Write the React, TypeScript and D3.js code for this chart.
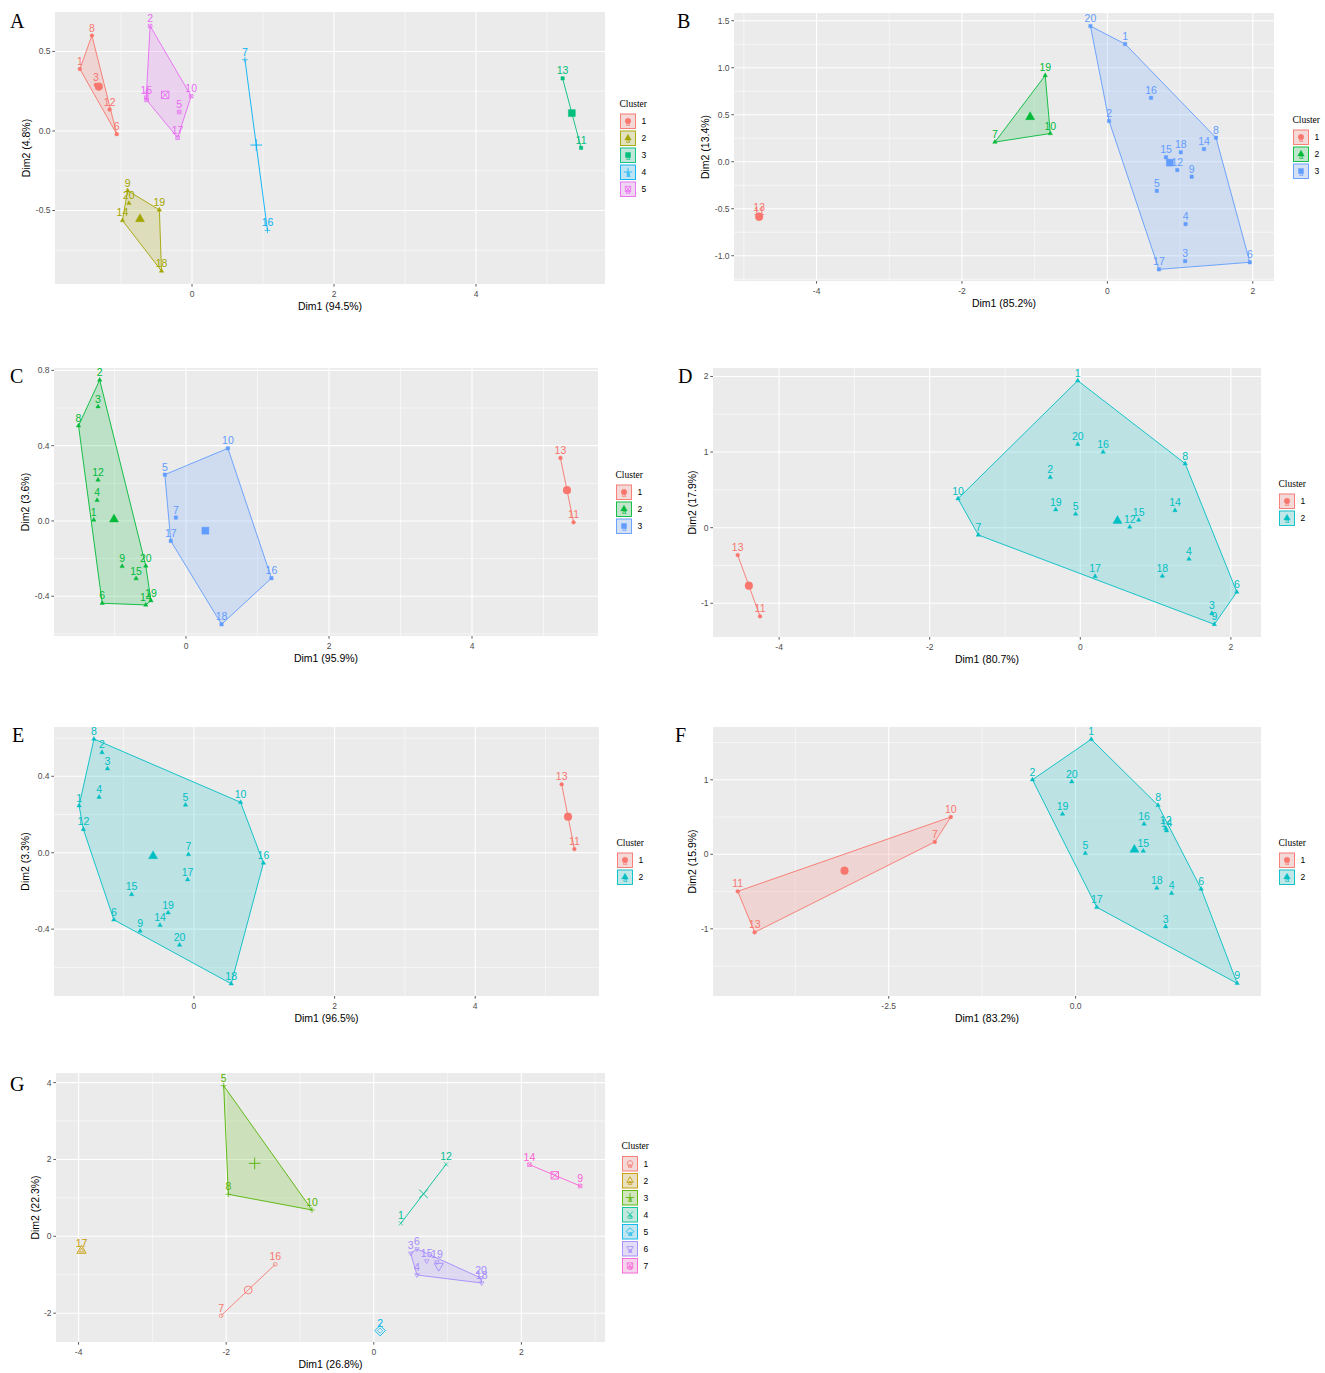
import React from 'react';
import * as d3 from 'd3';

const SANS = "'Liberation Sans', Arial, Helvetica, sans-serif";
const SERIF = "'Liberation Serif', 'Times New Roman', Times, serif";

// ggplot default hue palettes, by number of clusters
const hue2 = ['#F8766D', '#00BFC4'];
const hue3 = ['#F8766D', '#00BA38', '#619CFF'];
const hue5 = ['#F8766D', '#A3A500', '#00BF7D', '#00B0F6', '#E76BF3'];
const hue7 = ['#F8766D', '#C49A00', '#53B400', '#00C094', '#00B6EB', '#A58AFF', '#FB61D7'];

const shapes3 = ['circle', 'triangle', 'square'];
const shapes5 = ['circle', 'triangle', 'square', 'plus', 'squarex'];
const shapes7 = ['ocircle', 'otriangle', 'plus', 'cross', 'diamond', 'dtriangle', 'squarex'];

const ids20 = [1, 2, 3, 4, 5, 6, 7, 8, 9, 10, 11, 12, 13, 14, 15, 16, 17, 18, 19, 20];

// ---- A
const aDim1 = [-1.58, -0.59, -1.355, -0.64, -0.18, -1.06, 0.746, -1.41, -0.907, -0.012, 5.48, -1.16, 5.22, -0.98, -0.645, 1.063, -0.203, -0.43, -0.46, -0.89];
const aDim2 = [0.39, 0.66, 0.29, 0.195, 0.119, -0.02, 0.448, 0.6, -0.375, 0.219, -0.106, 0.135, 0.331, -0.5625, 0.21, -0.625, -0.042, -0.88, -0.496, -0.454];
const aCluster = [1, 5, 1, 5, 5, 1, 4, 1, 2, 5, 3, 1, 3, 2, 5, 4, 5, 2, 2, 2];

// ---- B
const bDim1 = [0.244, 0.023, 1.07, 1.076, 0.68, 1.96, -1.547, 1.494, 1.16, -0.785, -4.79, 0.962, -4.79, 1.329, 0.806, 0.6, 0.709, 1.01, -0.855, -0.233];
const bDim2 = [1.252, 0.433, -1.057, -0.663, -0.31, -1.07, 0.209, 0.255, -0.16, 0.3, -0.605, -0.089, -0.565, 0.135, 0.047, 0.68, -1.145, 0.1, 0.918, 1.443];
const bCluster = [3, 3, 3, 3, 3, 3, 2, 3, 3, 2, 1, 3, 1, 3, 3, 3, 3, 3, 2, 3];

// ---- C
const cDim1 = [-1.29, -1.207, -1.23, -1.243, -0.296, -1.172, -0.142, -1.503, -0.893, 0.586, 5.42, -1.23, 5.237, -0.562, -0.698, 1.195, -0.213, 0.497, -0.49, -0.562];
const cDim2 = [0.005, 0.749, 0.607, 0.11, 0.246, -0.437, 0.018, 0.506, -0.241, 0.386, -0.007, 0.218, 0.3345, -0.446, -0.306, -0.304, -0.106, -0.549, -0.423, -0.239];
const cCluster = [2, 2, 2, 2, 3, 2, 3, 2, 2, 3, 1, 2, 1, 2, 2, 3, 3, 3, 2, 2];

// ---- D
const dDim1 = [-0.034, -0.399, 1.747, 1.444, -0.062, 2.079, -1.354, 1.393, 1.78, -1.624, -4.253, 0.657, -4.55, 1.258, 0.775, 0.303, 0.197, 1.09, -0.326, -0.034];
const dDim2 = [1.945, 0.666, -1.134, -0.415, 0.181, -0.851, -0.097, 0.847, -1.279, 0.384, -1.173, 0.009, -0.362, 0.229, 0.101, 1.001, -0.644, -0.64, 0.238, 1.103];
const dCluster = [2, 2, 2, 2, 2, 2, 2, 2, 2, 2, 1, 2, 1, 2, 2, 2, 2, 2, 2, 2];

// ---- E
const eDim1 = [-1.633, -1.307, -1.229, -1.349, -0.12, -1.139, -0.078, -1.422, -0.765, 0.663, 5.41, -1.572, 5.229, -0.482, -0.886, 0.988, -0.09, 0.53, -0.367, -0.205];
const eDim2 = [0.246, 0.525, 0.44, 0.291, 0.25, -0.351, -0.009, 0.595, -0.41, 0.264, 0.019, 0.122, 0.358, -0.38, -0.218, -0.054, -0.141, -0.686, -0.314, -0.483];
const eCluster = [2, 2, 2, 2, 2, 2, 2, 2, 2, 2, 1, 2, 1, 2, 2, 2, 2, 2, 2, 2];

// ---- F
const fDim1 = [0.209, -0.577, 1.205, 1.284, 0.13, 1.68, -1.883, 1.103, 2.161, -1.669, -4.519, 1.205, -4.293, 1.216, 0.905, 0.916, 0.283, 1.086, -0.175, -0.051];
const fDim2 = [1.544, 1.002, -0.971, -0.523, 0.013, -0.465, 0.166, 0.658, -1.732, 0.501, -0.497, 0.349, -1.047, 0.318, 0.045, 0.407, -0.711, -0.452, 0.541, 0.975];
const fCluster = [2, 2, 2, 2, 2, 2, 1, 2, 2, 1, 1, 2, 1, 2, 2, 2, 2, 2, 2, 2];

// ---- G (11 and 13 not visible)
const gIds = [1, 2, 3, 4, 5, 6, 7, 8, 9, 10, 12, 14, 15, 16, 17, 18, 19, 20];
const gDim1 = [0.367, 0.086, 0.5, 0.585, -2.034, 0.585, -2.069, -1.971, 2.797, -0.837, 0.98, 2.109, 0.717, -1.335, -3.96, 1.462, 0.856, 1.453];
const gDim2 = [0.338, -2.454, -0.442, -1.007, 3.92, -0.33, -2.064, 1.093, 1.31, 0.685, 1.873, 1.865, -0.643, -0.729, -0.373, -1.215, -0.669, -1.085];
const gCluster = [4, 5, 6, 6, 3, 6, 1, 3, 7, 3, 4, 7, 6, 1, 2, 6, 6, 6];

// tick values and labels
const xTicks024 = [0, 2, 4];
const xLabels024 = ['0', '2', '4'];
const xTicksM4 = [-4, -2, 0, 2];
const xLabelsM4 = ['-4', '-2', '0', '2'];
const aYTicks = [-0.5, 0, 0.5];
const aYLabels = ['-0.5', '0.0', '0.5'];
const bYTicks = [-1, -0.5, 0, 0.5, 1, 1.5];
const bYLabels = ['-1.0', '-0.5', '0.0', '0.5', '1.0', '1.5'];
const cYTicks = [-0.4, 0, 0.4, 0.8];
const cYLabels = ['-0.4', '0.0', '0.4', '0.8'];
const dYTicks = [-1, 0, 1, 2];
const dYLabels = ['-1', '0', '1', '2'];
const eYTicks = [-0.4, 0, 0.4];
const eYLabels = ['-0.4', '0.0', '0.4'];
const fXTicks = [-2.5, 0];
const fXLabels = ['-2.5', '0.0'];
const fYTicks = [-1, 0, 1];
const fYLabels = ['-1', '0', '1'];
const gYTicks = [-2, 0, 2, 4];
const gYLabels = ['-2', '0', '2', '4'];

type Spec = {
  tag: string; tagX: number; tagY: number;
  ids: number[]; dim1: number[]; dim2: number[]; cluster: number[];
  colors: string[]; shapes: string[];
  xLab: string; yLab: string;
  xTicks: number[]; xLabels: string[]; yTicks: number[]; yLabels: string[];
  xDomain: [number, number]; yDomain: [number, number];
  left: number; right: number; top: number; bottom: number; legendX: number;
};

const specs: Spec[] = [
  { tag: 'A', tagX: 10, tagY: 28, ids: ids20, dim1: aDim1, dim2: aDim2, cluster: aCluster, colors: hue5, shapes: shapes5,
    xLab: 'Dim1 (94.5%)', yLab: 'Dim2 (4.8%)', xTicks: xTicks024, xLabels: xLabels024, yTicks: aYTicks, yLabels: aYLabels,
    xDomain: [-1.93, 5.817], yDomain: [-0.962, 0.748], left: 55, right: 605, top: 12, bottom: 284, legendX: 620 },
  { tag: 'B', tagX: 677, tagY: 28, ids: ids20, dim1: bDim1, dim2: bDim2, cluster: bCluster, colors: hue3, shapes: shapes3,
    xLab: 'Dim1 (85.2%)', yLab: 'Dim2 (13.4%)', xTicks: xTicksM4, xLabels: xLabelsM4, yTicks: bYTicks, yLabels: bYLabels,
    xDomain: [-5.136, 2.292], yDomain: [-1.269, 1.582], left: 734, right: 1274, top: 13, bottom: 281, legendX: 1293 },
  { tag: 'C', tagX: 10, tagY: 383, ids: ids20, dim1: cDim1, dim2: cDim2, cluster: cCluster, colors: hue3, shapes: shapes3,
    xLab: 'Dim1 (95.9%)', yLab: 'Dim2 (3.6%)', xTicks: xTicks024, xLabels: xLabels024, yTicks: cYTicks, yLabels: cYLabels,
    xDomain: [-1.846, 5.762], yDomain: [-0.611, 0.8125], left: 54, right: 598, top: 368, bottom: 636, legendX: 616 },
  { tag: 'D', tagX: 678, tagY: 383, ids: ids20, dim1: dDim1, dim2: dDim2, cluster: dCluster, colors: hue2, shapes: shapes3,
    xLab: 'Dim1 (80.7%)', yLab: 'Dim2 (17.9%)', xTicks: xTicksM4, xLabels: xLabelsM4, yTicks: dYTicks, yLabels: dYLabels,
    xDomain: [-4.878, 2.4], yDomain: [-1.446, 2.112], left: 713, right: 1261, top: 368, bottom: 637, legendX: 1279 },
  { tag: 'E', tagX: 12, tagY: 742, ids: ids20, dim1: eDim1, dim2: eDim2, cluster: eCluster, colors: hue2, shapes: shapes3,
    xLab: 'Dim1 (96.5%)', yLab: 'Dim2 (3.3%)', xTicks: xTicks024, xLabels: xLabels024, yTicks: eYTicks, yLabels: eYLabels,
    xDomain: [-1.99, 5.76], yDomain: [-0.75, 0.658], left: 54, right: 599, top: 727, bottom: 996, legendX: 617 },
  { tag: 'F', tagX: 675, tagY: 742, ids: ids20, dim1: fDim1, dim2: fDim2, cluster: fCluster, colors: hue2, shapes: shapes3,
    xLab: 'Dim1 (83.2%)', yLab: 'Dim2 (15.9%)', xTicks: fXTicks, xLabels: fXLabels, yTicks: fYTicks, yLabels: fYLabels,
    xDomain: [-4.85, 2.48], yDomain: [-1.902, 1.709], left: 713, right: 1261, top: 727, bottom: 996, legendX: 1279 },
  { tag: 'G', tagX: 10, tagY: 1091, ids: gIds, dim1: gDim1, dim2: gDim2, cluster: gCluster, colors: hue7, shapes: shapes7,
    xLab: 'Dim1 (26.8%)', yLab: 'Dim2 (22.3%)', xTicks: xTicksM4, xLabels: xLabelsM4, yTicks: gYTicks, yLabels: gYLabels,
    xDomain: [-4.306, 3.133], yDomain: [-2.75, 4.25], left: 56, right: 605, top: 1073, bottom: 1342, legendX: 622 },
];

const filled = new Set(['circle', 'triangle', 'square']);

function symbolPath(shape: string, r: number): string {
  const f = (n: number) => n.toFixed(2);
  switch (shape) {
    case 'circle':
    case 'ocircle':
      return `M${f(-r)},0A${f(r)},${f(r)} 0 1,0 ${f(r)},0A${f(r)},${f(r)} 0 1,0 ${f(-r)},0Z`;
    case 'triangle':
    case 'otriangle': {
      const R = r * 1.35;
      return `M0,${f(-R)}L${f(R * 0.866)},${f(R * 0.5)}L${f(-R * 0.866)},${f(R * 0.5)}Z`;
    }
    case 'dtriangle': {
      const R = r * 1.35;
      return `M0,${f(R)}L${f(R * 0.866)},${f(-R * 0.5)}L${f(-R * 0.866)},${f(-R * 0.5)}Z`;
    }
    case 'square': {
      const s = r * 0.9;
      return `M${f(-s)},${f(-s)}H${f(s)}V${f(s)}H${f(-s)}Z`;
    }
    case 'plus': {
      const s = r * 1.5;
      return `M${f(-s)},0H${f(s)}M0,${f(-s)}V${f(s)}`;
    }
    case 'cross': {
      const s = r * 1.1;
      return `M${f(-s)},${f(-s)}L${f(s)},${f(s)}M${f(-s)},${f(s)}L${f(s)},${f(-s)}`;
    }
    case 'diamond': {
      const s = r * 1.35;
      return `M0,${f(-s)}L${f(s)},0L0,${f(s)}L${f(-s)},0Z`;
    }
    default: {
      const s = r * 0.95;
      return `M${f(-s)},${f(-s)}H${f(s)}V${f(s)}H${f(-s)}ZM${f(-s)},${f(-s)}L${f(s)},${f(s)}M${f(-s)},${f(s)}L${f(s)},${f(-s)}`;
    }
  }
}

function Mark({ shape, color, x, y, r, sw }: { shape: string; color: string; x: number; y: number; r: number; sw: number }) {
  const isFilled = filled.has(shape);
  return (
    <path
      d={symbolPath(shape, r)}
      transform={`translate(${x},${y})`}
      fill={isFilled ? color : 'none'}
      stroke={color}
      strokeWidth={isFilled ? 0.4 : sw}
    />
  );
}

function minorBreaks(ticks: number[], domain: [number, number]) {
  const step = ticks[1] - ticks[0];
  const out: number[] = [];
  for (let v = ticks[0] - step / 2; v <= ticks[ticks.length - 1] + step / 2 + 1e-9; v += step) {
    if (v > domain[0] && v < domain[1]) out.push(v);
  }
  return out;
}

function Panel({ p }: { p: Spec }) {
  const x = d3.scaleLinear().domain(p.xDomain).range([p.left, p.right]);
  const y = d3.scaleLinear().domain(p.yDomain).range([p.bottom, p.top]);
  const pts = p.ids.map((id, i) => ({ id, px: x(p.dim1[i]), py: y(p.dim2[i]), c: p.cluster[i] }));
  const groups = d3.groups(pts, d => d.c).sort((a, b) => a[0] - b[0]);
  const nClusters = p.colors.length;
  const clipId = `clip-${p.tag}`;
  const w = p.right - p.left;
  const h = p.bottom - p.top;
  const minX = minorBreaks(p.xTicks, p.xDomain);
  const minY = minorBreaks(p.yTicks, p.yDomain);
  const maxLabLen = d3.max(p.yLabels, s => s.length) || 1;
  const yTitleX = p.left - (maxLabLen > 2 ? 28.5 : 21);
  const midY = (p.top + p.bottom) / 2;
  const keysTop = midY - (nClusters * 17) / 2 + 8;

  return (
    <g>
      <defs>
        <clipPath id={clipId}>
          <rect x={p.left} y={p.top} width={w} height={h} />
        </clipPath>
      </defs>
      <rect x={p.left} y={p.top} width={w} height={h} fill="#EBEBEB" />
      {minX.map(v => (
        <line key={'mx' + v} x1={x(v)} x2={x(v)} y1={p.top} y2={p.bottom} stroke="#fff" strokeWidth={0.55} />
      ))}
      {minY.map(v => (
        <line key={'my' + v} x1={p.left} x2={p.right} y1={y(v)} y2={y(v)} stroke="#fff" strokeWidth={0.55} />
      ))}
      {p.xTicks.map(v => (
        <line key={'Mx' + v} x1={x(v)} x2={x(v)} y1={p.top} y2={p.bottom} stroke="#fff" strokeWidth={1.1} />
      ))}
      {p.yTicks.map(v => (
        <line key={'My' + v} x1={p.left} x2={p.right} y1={y(v)} y2={y(v)} stroke="#fff" strokeWidth={1.1} />
      ))}
      <g clipPath={`url(#${clipId})`}>
        {groups.map(([c, g]) => {
          const col = p.colors[c - 1];
          const coords = g.map(d => [d.px, d.py] as [number, number]);
          if (coords.length >= 3) {
            const hull = d3.polygonHull(coords);
            if (!hull) return null;
            return (
              <path key={'h' + c} d={'M' + hull.map(q => q.join(',')).join('L') + 'Z'}
                fill={col} fillOpacity={0.2} stroke={col} strokeWidth={0.9} />
            );
          }
          if (coords.length === 2) {
            return (
              <line key={'h' + c} x1={coords[0][0]} y1={coords[0][1]} x2={coords[1][0]} y2={coords[1][1]}
                stroke={col} strokeWidth={0.9} />
            );
          }
          return null;
        })}
        {pts.map(d => (
          <Mark key={'p' + d.id} shape={p.shapes[d.c - 1]} color={p.colors[d.c - 1]} x={d.px} y={d.py} r={1.9} sw={0.7} />
        ))}
        {groups.map(([c, g]) => (
          <Mark key={'c' + c} shape={p.shapes[c - 1]} color={p.colors[c - 1]}
            x={d3.mean(g, d => d.px) as number} y={d3.mean(g, d => d.py) as number} r={3.9} sw={0.9} />
        ))}
        {pts.map(d => (
          <text key={'t' + d.id} x={d.px} y={d.py - 4} textAnchor="middle" fontFamily={SANS} fontSize={10.5}
            fill={p.colors[d.c - 1]}>{d.id}</text>
        ))}
      </g>
      {/* axes */}
      {p.xTicks.map((v, i) => (
        <g key={'xt' + v}>
          <line x1={x(v)} x2={x(v)} y1={p.bottom} y2={p.bottom + 2.7} stroke="#333" strokeWidth={0.8} />
          <text x={x(v)} y={p.bottom + 12.5} textAnchor="middle" fontFamily={SANS} fontSize={8.5} fill="#4D4D4D">
            {p.xLabels[i]}
          </text>
        </g>
      ))}
      {p.yTicks.map((v, i) => (
        <g key={'yt' + v}>
          <line x1={p.left - 2.7} x2={p.left} y1={y(v)} y2={y(v)} stroke="#333" strokeWidth={0.8} />
          <text x={p.left - 4.5} y={y(v)} dy="0.35em" textAnchor="end" fontFamily={SANS} fontSize={8.5} fill="#4D4D4D">
            {p.yLabels[i]}
          </text>
        </g>
      ))}
      <text x={(p.left + p.right) / 2} y={p.bottom + 22.5} dy="0.35em" textAnchor="middle" fontFamily={SANS}
        fontSize={10.5} fill="#000">{p.xLab}</text>
      <text transform={`translate(${yTitleX},${midY}) rotate(-90)`} dy="0.35em" textAnchor="middle" fontFamily={SANS}
        fontSize={10.5} fill="#000">{p.yLab}</text>
      {/* legend */}
      <text x={p.legendX - 0.5} y={keysTop - 7} fontFamily={SERIF} fontSize={9.5} fill="#000">Cluster</text>
      {p.colors.map((col, i) => {
        const ky = keysTop + i * 17;
        return (
          <g key={'k' + i}>
            <rect x={p.legendX} y={ky} width={16} height={15.5} fill="#F2F2F2" />
            <rect x={p.legendX + 0.5} y={ky + 0.5} width={15} height={14.5} fill={col} fillOpacity={0.2}
              stroke={col} strokeWidth={0.9} />
            <Mark shape={p.shapes[i]} color={col} x={p.legendX + 8} y={ky + 7.5} r={2.8} sw={0.8} />
            <text x={p.legendX + 8} y={ky + 12} textAnchor="middle" fontFamily={SANS} fontSize={7.5} fill={col}>a</text>
            <text x={p.legendX + 21.5} y={ky + 7.75} dy="0.35em" fontFamily={SANS} fontSize={8.5} fill="#000">
              {i + 1}
            </text>
          </g>
        );
      })}
      <text x={p.tagX} y={p.tagY} fontFamily={SERIF} fontSize={20} fill="#000">{p.tag}</text>
    </g>
  );
}

export default function App() {
  return (
    <svg width={1325} height={1373} viewBox="0 0 1325 1373"
      style={{ position: 'absolute', left: 0, top: 0, background: '#fff', display: 'block' }}>
      <rect width={1325} height={1373} fill="#fff" />
      {specs.map(p => <Panel key={p.tag} p={p} />)}
    </svg>
  );
}
